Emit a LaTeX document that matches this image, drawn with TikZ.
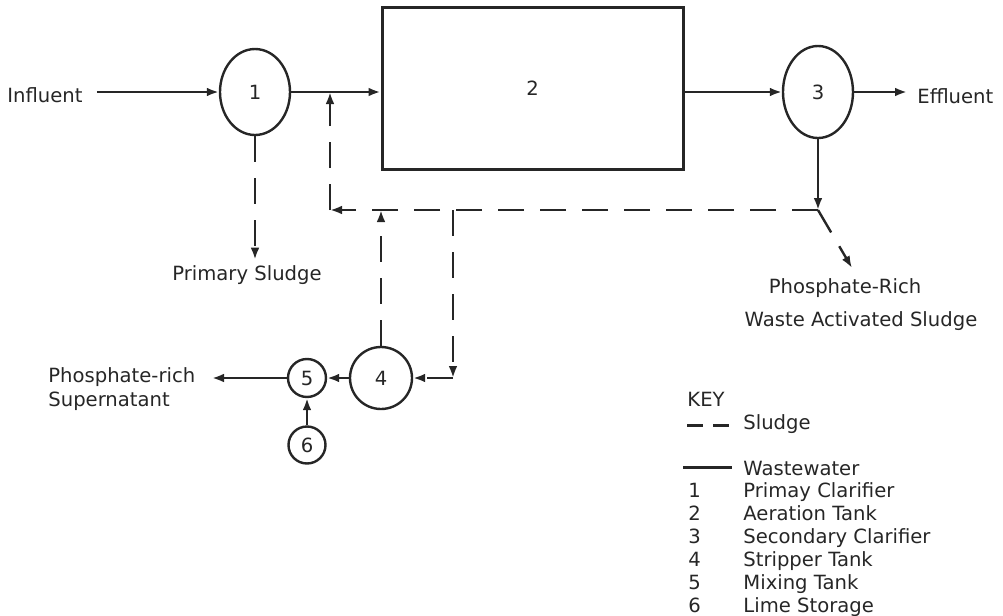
\documentclass[tikz,border=0pt]{standalone}
\usepackage{fontspec}
\setmainfont{DejaVu Sans}
\usetikzlibrary{arrows.meta, shapes.geometric}

\begin{document}
\begin{tikzpicture}[
  x = 0.5pt, y = -0.5pt,
  color = black!85,
  every node/.style = {font=\fontsize{9.8}{12}\selectfont},
  clar/.style   = {ellipse, draw, line width=1.2pt, inner sep=0pt},
  vessel/.style = {circle, draw, line width=1.2pt, inner sep=0pt},
  basin/.style  = {rectangle, draw, line width=1.5pt, inner sep=0pt},
  lab/.style    = {inner sep=0pt},
  arr/.style    = {-{Latex[length=6pt, width=4.4pt]}, line width=1.2pt},
  sarr/.style   = {arr, dash pattern=on 13pt off 8pt},
  keyline/.style = {line width=1.5pt}
]
\useasboundingbox (0,0) rectangle (1003,616);

% ---- main wastewater line (y = 92) -------------------------------------
\node[lab, anchor=base west] (infl) at (7,102) {Influent};
\node[clar, minimum width=35pt, minimum height=43pt] (c1) at (255,92) {1};
\node[basin, minimum width=150.5pt, minimum height=81pt] (aer) at (532.5,88) {2};
\node[clar, minimum width=35pt, minimum height=46pt] (c3) at (818,92) {3};
\node[lab, anchor=base west] (effl) at (917,103) {Effluent};

\draw[arr, shorten <=7pt] (infl.east |- c1.west) -- (c1.west);
\draw[arr] (c1.east) -- (c1.east -| aer.west);
\draw[arr] (aer.east |- c3.west) -- (c3.west);
\draw[arr, shorten >=5pt] (c3.east) -- (c3.east -| effl.west);

% ---- primary sludge ----------------------------------------------------
\node[lab, anchor=base] (psl) at (247,280) {Primary Sludge};
\draw[sarr, shorten >=2.5pt] (c1.south) -- (c1.south |- psl.north);

% ---- return and waste activated sludge --------------------------------
\coordinate (jn) at (818,210);
\coordinate (rl) at (330,210);
\coordinate (sp) at (453,210);
\coordinate (wasin) at (852,268);
\node[lab, anchor=base] (was1) at (845,293) {Phosphate-Rich};
\node[lab, anchor=base] (was2) at (861,326) {Waste Activated Sludge};

\draw[arr] (c3.south) -- (jn);
\draw[sarr] (jn) -- (rl);
\draw[sarr] (rl) -- (rl |- c1.east);
\draw[sarr] (jn) -- (wasin);

% ---- sidestream: stripper, mixing, lime -------------------------------
\node[vessel, minimum size=31pt] (c4) at (381,378) {4};
\node[vessel, minimum size=19pt] (c5) at (307,378) {5};
\node[vessel, minimum size=18.5pt] (c6) at (307,445) {6};
\node[lab, anchor=north west, align=left] (sup) at (48,367)
  {Phosphate-rich\\Supernatant};
\coordinate (supin) at (212,378);

\draw[sarr] (sp) -- (sp |- c4.east);
\draw[sarr] (sp |- c4.east) -- (c4.east);
\draw[sarr] (c4.north) -- (c4.north |- jn);
\draw[arr] (c4) -- (c5);
\draw[arr] (c6) -- (c5);
\draw[arr] (c5) -- (supin);

% ---- key ---------------------------------------------------------------
\node[lab, anchor=base west] (key) at (687,406) {KEY};
\coordinate (sla) at (687,425);
\coordinate (slb) at (733,425);
\draw[keyline, dash pattern=on 8pt off 5pt] (sla) -- (slb);
\node[lab, anchor=base west] (ksl) at (743,429) {Sludge};
\coordinate (wwa) at (683,467);
\coordinate (wwb) at (732,467);
\draw[keyline] (wwa) -- (wwb);
\node[lab, anchor=base west] (kww) at (743,475) {Wastewater};

\node[lab, anchor=base west] (n1) at (688,497) {1};
\node[lab, anchor=base west] (k1) at (743,497) {Primay Clarifier};
\node[lab, anchor=base west] (n2) at (688,520) {2};
\node[lab, anchor=base west] (k2) at (743,520) {Aeration Tank};
\node[lab, anchor=base west] (n3) at (688,543) {3};
\node[lab, anchor=base west] (k3) at (743,543) {Secondary Clarifier};
\node[lab, anchor=base west] (n4) at (688,566) {4};
\node[lab, anchor=base west] (k4) at (743,566) {Stripper Tank};
\node[lab, anchor=base west] (n5) at (688,589) {5};
\node[lab, anchor=base west] (k5) at (743,589) {Mixing Tank};
\node[lab, anchor=base west] (n6) at (688,612) {6};
\node[lab, anchor=base west] (k6) at (743,612) {Lime Storage};

\end{tikzpicture}
\end{document}
